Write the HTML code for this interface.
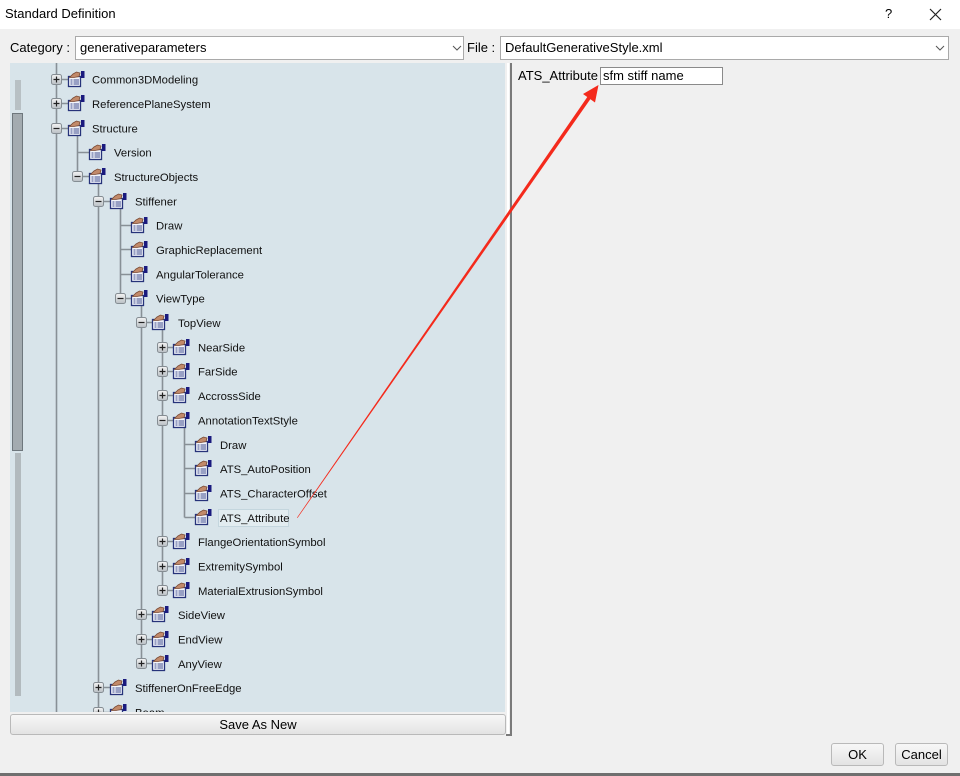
<!DOCTYPE html>
<html><head><meta charset="utf-8"><style>
html,body{margin:0;padding:0;}
body{width:960px;height:776px;position:relative;overflow:hidden;background:#f0f0f0;font-family:"Liberation Sans",Arial,sans-serif;color:#000;}
.abs{position:absolute;}
#title{left:0;top:0;width:960px;height:29px;background:#fff;}
.t{position:absolute;white-space:nowrap;}
.combo{position:absolute;background:#fff;border:1px solid #a9a9a9;box-sizing:border-box;}
.btn{position:absolute;box-sizing:border-box;border:1px solid #b9b9b9;border-radius:3px;background:linear-gradient(#f7f7f7,#e3e3e3);font-size:13px;text-align:center;}
</style></head><body>
<div id="title" class="abs"></div>
<div class="t" style="left:5px;top:6px;font-size:13px;">Standard Definition</div>
<div class="t" style="left:885px;top:6px;font-size:13px;">?</div>
<svg class="abs" style="left:929px;top:8px" width="13" height="13"><path d="M1 1L12 12M12 1L1 12" stroke="#222" stroke-width="1.2"/></svg>

<div class="t" style="left:10px;top:40px;font-size:13px;">Category :</div>
<div class="combo" style="left:75px;top:36px;width:389px;height:24px;"></div>
<div class="t" style="left:80px;top:40px;font-size:13px;">generativeparameters</div>
<svg class="abs" style="left:452px;top:45px" width="10" height="6"><path d="M1 1L5 5L9 1" stroke="#555" fill="none"/></svg>
<div class="t" style="left:467px;top:40px;font-size:13px;">File :</div>
<div class="combo" style="left:500px;top:36px;width:449px;height:24px;"></div>
<div class="t" style="left:505px;top:40px;font-size:13px;">DefaultGenerativeStyle.xml</div>
<svg class="abs" style="left:935px;top:45px" width="10" height="6"><path d="M1 1L5 5L9 1" stroke="#555" fill="none"/></svg>

<!-- tree panel -->
<div class="abs" style="left:10px;top:63px;width:495px;height:649px;background:#d8e4ea;overflow:hidden;">
<svg width="495" height="649" viewBox="10 63 495 649" style="position:absolute;left:0;top:0" font-family="Liberation Sans, Arial, sans-serif" font-size="11.3">
<defs>
<linearGradient id="eg" x1="0" y1="0" x2="0" y2="1"><stop offset="0" stop-color="#f4f4f4"/><stop offset="1" stop-color="#b9bfc4"/></linearGradient>
<g id="box"><rect x="0" y="0" width="10" height="10" rx="2" fill="url(#eg)" stroke="#858d93"/></g>
<g id="pl"><use href="#box"/><path d="M2 5H8M5 2V8" stroke="#222" stroke-width="1.2"/></g>
<g id="mi"><use href="#box"/><path d="M2 5H8" stroke="#222" stroke-width="1.2"/></g>
<g id="ic">
<rect x="1.5" y="5.5" width="12" height="10" fill="#f3f5fb" stroke="#27337a" stroke-width="1.3"/>
<path d="M3.5 9H5.5M6.5 9H12M3.5 11H5.5M6.5 11H12M3.5 13H5.5M6.5 13H12" stroke="#3c4a8c"/>
<path d="M2.5 6.5L6 3L9.5 1L13 2L12 5.5L7 6.5Z" fill="#c28a6a" stroke="#7a4a34" stroke-width="0.8"/>
<rect x="14" y="0" width="3.5" height="7" fill="#1a1a7e"/>
</g>
</defs>
<g stroke="#889096" stroke-width="1.6" fill="none">
<path d="M56.5 63V712"/>
<path d="M77.5 128V176.5"/>
<path d="M98.5 176.5V712"/>
<path d="M120.5 201V298"/>
<path d="M141.5 298V663.5"/>
<path d="M162.5 322.5V590.5"/>
<path d="M184.5 420V517.5"/>
<!-- horizontals -->
<path d="M56.5 79.5H68M56.5 103.5H68M56.5 128.5H68"/>
<path d="M77.5 152.5H89M77.5 176.5H89"/>
<path d="M98.5 201.5H110M98.5 687.5H110M98.5 712.5H110"/>
<path d="M120.5 225.5H131M120.5 249.5H131M120.5 274.5H131M120.5 298.5H131"/>
<path d="M141.5 322.5H152M141.5 614.5H152M141.5 639.5H152M141.5 663.5H152"/>
<path d="M162.5 347.5H173M162.5 371.5H173M162.5 395.5H173M162.5 420.5H173M162.5 541.5H173M162.5 566.5H173M162.5 590.5H173"/>
<path d="M184.5 444.5H195M184.5 468.5H195M184.5 493.5H195M184.5 517.5H195"/>
</g>
<!-- expanders -->
<use href="#pl" x="51.5" y="74.5"/>
<use href="#pl" x="51.5" y="98.5"/>
<use href="#mi" x="51.5" y="123.5"/>
<use href="#mi" x="72.5" y="171.5"/>
<use href="#mi" x="93.5" y="196.5"/>
<use href="#mi" x="115.5" y="293.5"/>
<use href="#mi" x="136.5" y="317.5"/>
<use href="#pl" x="157.5" y="342.5"/>
<use href="#pl" x="157.5" y="366.5"/>
<use href="#pl" x="157.5" y="390.5"/>
<use href="#mi" x="157.5" y="415.5"/>
<use href="#pl" x="157.5" y="536.5"/>
<use href="#pl" x="157.5" y="561.5"/>
<use href="#pl" x="157.5" y="585.5"/>
<use href="#pl" x="136.5" y="609.5"/>
<use href="#pl" x="136.5" y="634.5"/>
<use href="#pl" x="136.5" y="658.5"/>
<use href="#pl" x="93.5" y="682.5"/>
<use href="#pl" x="93.5" y="707.5"/>
<!-- icons -->
<use href="#ic" x="67" y="71"/>
<use href="#ic" x="67" y="95"/>
<use href="#ic" x="67" y="120"/>
<use href="#ic" x="88" y="144"/>
<use href="#ic" x="88" y="168"/>
<use href="#ic" x="109" y="193"/>
<use href="#ic" x="130" y="217"/>
<use href="#ic" x="130" y="241"/>
<use href="#ic" x="130" y="266"/>
<use href="#ic" x="130" y="290"/>
<use href="#ic" x="151" y="314"/>
<use href="#ic" x="172" y="339"/>
<use href="#ic" x="172" y="363"/>
<use href="#ic" x="172" y="387"/>
<use href="#ic" x="172" y="412"/>
<use href="#ic" x="194" y="436"/>
<use href="#ic" x="194" y="460"/>
<use href="#ic" x="194" y="485"/>
<use href="#ic" x="194" y="509"/>
<use href="#ic" x="172" y="533"/>
<use href="#ic" x="172" y="558"/>
<use href="#ic" x="172" y="582"/>
<use href="#ic" x="151" y="606"/>
<use href="#ic" x="151" y="631"/>
<use href="#ic" x="151" y="655"/>
<use href="#ic" x="109" y="679"/>
<use href="#ic" x="109" y="704"/>
<rect x="218.5" y="509.5" width="70" height="17" fill="#e2ecf0" stroke="#c4d6de"/>
<g fill="#111">
<text x="92" y="83.5">Common3DModeling</text>
<text x="92" y="108">ReferencePlaneSystem</text>
<text x="92" y="132.5">Structure</text>
<text x="114" y="156.5">Version</text>
<text x="114" y="181">StructureObjects</text>
<text x="135" y="205.5">Stiffener</text>
<text x="156" y="229.5">Draw</text>
<text x="156" y="254">GraphicReplacement</text>
<text x="156" y="278.5">AngularTolerance</text>
<text x="156" y="302.5">ViewType</text>
<text x="178" y="327">TopView</text>
<text x="198" y="351.5">NearSide</text>
<text x="198" y="375.5">FarSide</text>
<text x="198" y="400">AccrossSide</text>
<text x="198" y="424.5">AnnotationTextStyle</text>
<text x="220" y="449">Draw</text>
<text x="220" y="473">ATS_AutoPosition</text>
<text x="220" y="497.5">ATS_CharacterOffset</text>
<text x="220" y="522">ATS_Attribute</text>
<text x="198" y="546">FlangeOrientationSymbol</text>
<text x="198" y="570.5">ExtremitySymbol</text>
<text x="198" y="595">MaterialExtrusionSymbol</text>
<text x="178" y="619">SideView</text>
<text x="178" y="643.5">EndView</text>
<text x="178" y="668">AnyView</text>
<text x="135" y="692">StiffenerOnFreeEdge</text>
<text x="135" y="716.5">Beam</text>
</g>
<!-- scrollbar -->
<rect x="15" y="80" width="6" height="30" fill="#b8c0c4"/>
<rect x="12.5" y="113.5" width="10" height="337" fill="#a3abb0" stroke="#6e777d"/>
<rect x="15" y="453" width="6" height="243" fill="#b2babe"/>
</svg>
</div>

<!-- divider -->
<div class="abs" style="left:507px;top:63px;width:2px;height:672px;background:#fff;"></div>
<div class="abs" style="left:510px;top:63px;width:2px;height:673px;background:#7a7a7a;"></div>
<div class="abs" style="left:506px;top:734px;width:6px;height:2px;background:#7a7a7a;"></div>

<div class="btn" style="left:10px;top:714px;width:496px;height:21px;line-height:19px;">Save As New</div>

<!-- right panel -->
<div class="t" style="left:518px;top:68px;font-size:13px;">ATS_Attribute</div>
<div class="abs" style="left:600px;top:67px;width:123px;height:18px;background:#fff;border:1px solid #8a8a8a;box-sizing:border-box;"></div>
<div class="t" style="left:603px;top:68px;font-size:13px;">sfm stiff name</div>

<!-- red arrow -->
<svg class="abs" style="left:0;top:0" width="960" height="776">
<polygon points="297,517.6 297.5,518 591.5,97.5 588.5,95.3" fill="#f42a1c"/>
<polygon points="598.5,85 583,94 595,102.5" fill="#f42a1c"/>
</svg>

<div class="btn" style="left:831px;top:743px;width:53px;height:23px;line-height:21px;">OK</div>
<div class="btn" style="left:895px;top:743px;width:53px;height:23px;line-height:21px;">Cancel</div>

<div class="abs" style="left:0;top:773px;width:960px;height:3px;background:#6f6f6f;"></div>
</body></html>
